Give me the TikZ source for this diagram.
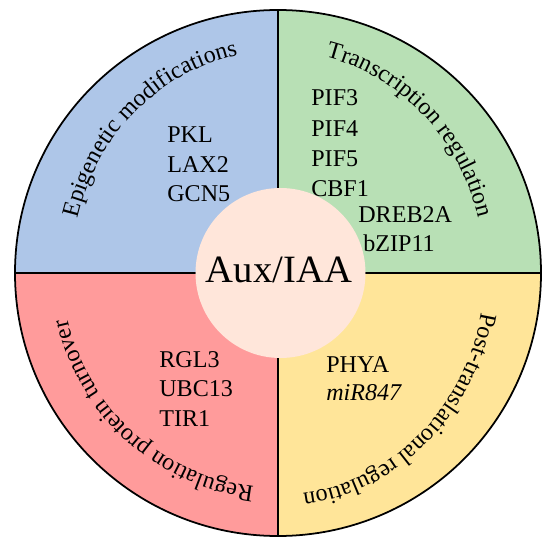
\documentclass[tikz,border=0pt]{standalone}
\usepackage{fontspec}
\setmainfont{Liberation Serif}
\usepackage{tikz}
\usetikzlibrary{decorations.text}

\definecolor{epiblue}{RGB}{174,198,232}
\definecolor{transgreen}{RGB}{184,224,181}
\definecolor{turnred}{RGB}{255,155,155}
\definecolor{postyellow}{RGB}{255,229,153}
\definecolor{auxpeach}{RGB}{255,230,218}

\newcommand{\arcfont}{\fontsize{13.7}{16}\selectfont}

\tikzset{
  gene/.style={font=\arcfont, anchor=base west, inner sep=0pt},
  arclabel/.style={decorate, decoration={text along path, text align=center, text={|\arcfont|#1}}}
}

\begin{document}
\begin{tikzpicture}
  \useasboundingbox (-5.56,-5.54) rectangle (5.44,5.46);

  % Quadrants
  \foreach \col/\ang in {epiblue/90, transgreen/0, turnred/180, postyellow/270} {
    \fill[\col] (0,0) -- (\ang:5.26) arc[start angle=\ang, delta angle=90, radius=5.26] -- cycle;
  }

  % Dividers and outer ring
  \draw[line width=1.1pt] (-5.26,0) -- (5.26,0);
  \draw[line width=1.1pt] (0,-5.26) -- (0,5.26);
  \draw[line width=1pt] (0,0) circle (5.26);

  % Centre
  \node[circle, fill=auxpeach, minimum size=3.4cm, inner sep=0pt, font=\fontsize{22}{26}\selectfont] (aux) at (0.05,0) {};
  \node[font=\fontsize{22}{26}\selectfont, anchor=base] (auxlbl) at (0.02,-0.2) {Aux/IAA};

  % Curved quadrant titles
  \path[arclabel={Epigenetic modifications}] (178:4.14 and 4.44) arc[start angle=178, end angle=88, x radius=4.14, y radius=4.44];
  \path[arclabel={Transcription regulation}] (91:4.14 and 4.44) arc[start angle=91, end angle=1, x radius=4.14, y radius=4.44];
  \path[arclabel={Post-translational regulation}] (-2:4.14 and 4.44) arc[start angle=-2, end angle=-92, x radius=4.14, y radius=4.44];
  \path[arclabel={Regulation protein turnover}] (273:4.3) arc[start angle=273, end angle=183, radius=4.3];

  % Genes
  \foreach \x/\y/\g in {-2.22/2.61/PKL, -2.22/2.01/LAX2, -2.22/1.42/GCN5,
                        0.66/3.34/PIF3, 0.66/2.72/PIF4, 0.66/2.12/PIF5, 0.66/1.52/CBF1,
                        1.60/1.00/DREB2A, 1.70/0.42/bZIP11,
                        -2.38/-1.88/RGL3, -2.38/-2.46/UBC13, -2.38/-3.06/TIR1,
                        0.96/-1.98/PHYA} {
    \node[gene] (\g) at (\x,\y) {\g};
  }
  \node[gene, font=\arcfont\itshape] (mir) at (0.96,-2.54) {miR847};
\end{tikzpicture}
\end{document}
